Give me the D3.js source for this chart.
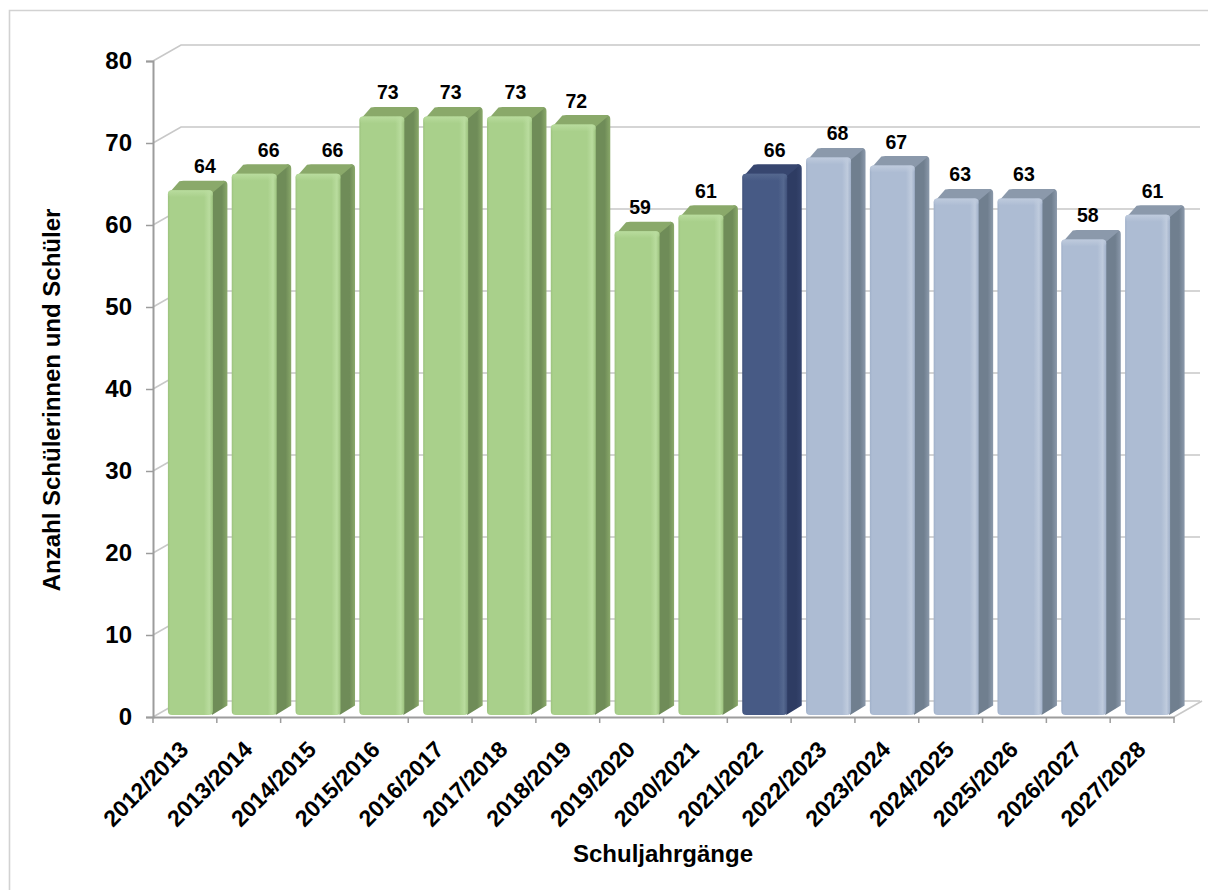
<!DOCTYPE html>
<html>
<head>
<meta charset="utf-8">
<script src="https://cdn.jsdelivr.net/npm/d3@7"></script>
<style>
  html, body { margin: 0; padding: 0; background: #fff; }
  text { font-family: "Liberation Sans", Arial, sans-serif; font-weight: bold; fill: #000; }
</style>
</head>
<body>
<svg id="chart" width="1208" height="890"></svg>
<script>
// Pupil numbers per school year; 2021/2022 is the current year, later years are forecasts.
const schoolYears = ["2012/2013","2013/2014","2014/2015","2015/2016","2016/2017","2017/2018","2018/2019","2019/2020","2020/2021","2021/2022","2022/2023","2023/2024","2024/2025","2025/2026","2026/2027","2027/2028"];
const pupils = [64,66,66,73,73,73,72,59,61,66,68,67,63,63,58,61];
const periods = ["past","past","past","past","past","past","past","past","past","current","future","future","future","future","future","future"];
const yTicks = [0,10,20,30,40,50,60,70,80];
// Hand-placed horizontal offset of each value label from its bar's centre
const labelNudge = [14.5,14.5,14.5,6,5,6,3,3,5,10,9,4,4,4,4,5];

const palette = {
  past:    { front: "#a9d08b", edge: "#b9dc9e", shade: "#9cc27e", side: "#6f8c58", top: "#8aa96a" },
  current: { front: "#475a85", edge: "#55688f", shade: "#3f5079", side: "#2e3c63", top: "#37466f" },
  future:  { front: "#adbcd3", edge: "#bfcbdd", shade: "#a0b0c9", side: "#707f8f", top: "#8b99ab" }
};

const svg = d3.select("#chart");
const margin = { left: 153, right: 1174, top: 61, bottom: 717 };
const wall = { dx: 28, dy: -16 };      // offset of the back wall from the front plane
const depth = { dx: 14.5, dy: -9.5 };  // depth of one bar
const barWidth = 45;
const barShift = 5.5;                  // bars stand slightly right of the slot centre
const radius = 4;

const x = d3.scaleBand().domain(schoolYears).range([margin.left, margin.right]);
const y = d3.scaleLinear().domain([0, 80]).range([margin.bottom, margin.top]);
const gridColor = "#c8c8c8", axisColor = "#9c9c9c";

// Chart frame: only the top and left edges are visible
svg.append("path").attr("d", "M9.5,890V10.5H1208").attr("fill", "none").attr("stroke", "#d2d2d2").attr("stroke-width", 1.6);

// Back wall gridlines with their diagonal run to the front axis
const grid = svg.append("g").attr("fill", "none").attr("stroke", gridColor).attr("stroke-width", 1.6);
yTicks.forEach(t => {
  const p = d3.path();
  p.moveTo(margin.left, y(t));
  p.lineTo(margin.left + wall.dx, y(t) + wall.dy);
  p.lineTo(margin.right + wall.dx - 2, y(t) + wall.dy);
  grid.append("path").attr("d", p.toString());
});
// Floor edge at the right end
grid.append("path").attr("d", d3.line()([[margin.right, y(0)], [margin.right + wall.dx, y(0) + wall.dy]]));

// Gradients for the bar faces
const defs = svg.append("defs");
Object.entries(palette).forEach(([key, c]) => {
  const g = defs.append("linearGradient").attr("id", "front-" + key);
  [[0, c.shade], [0.05, c.front], [0.8, c.front], [0.92, c.edge], [1, c.shade]].forEach(([o, col]) =>
    g.append("stop").attr("offset", o).attr("stop-color", col));
  const s = defs.append("linearGradient").attr("id", "side-" + key);
  [[0, c.side], [0.7, c.side], [1, c.top]].forEach(([o, col]) =>
    s.append("stop").attr("offset", o).attr("stop-color", col));
  const h = defs.append("linearGradient").attr("id", "cap-" + key).attr("x2", 0).attr("y2", 1);
  h.append("stop").attr("offset", 0).attr("stop-color", c.edge);
  h.append("stop").attr("offset", 1).attr("stop-color", c.edge).attr("stop-opacity", 0);
});

// Bars as three faces: side, top, front
svg.append("g").selectAll("g").data(schoolYears).join("g").each(function (year, i) {
  const key = periods[i], c = palette[key];
  const g = d3.select(this);
  const x0 = x(year) + (x.bandwidth() - barWidth) / 2 + barShift;
  const x1 = x0 + barWidth;
  const yb = y(0) - 2;
  const yt = y(pupils[i]) - 2;

  // Side and top share one rounded outline, the top face is painted over it
  const side = d3.path();
  side.moveTo(x1 - 1, yb);
  side.lineTo(x1 + depth.dx, yb + depth.dy);
  side.lineTo(x1 + depth.dx, yt + depth.dy + radius);
  side.quadraticCurveTo(x1 + depth.dx, yt + depth.dy, x1 + depth.dx - radius, yt + depth.dy);
  side.lineTo(x1 - 4, yt + 2);
  side.lineTo(x1 - 1, yt + 2);
  side.closePath();
  g.append("path").attr("d", side.toString()).attr("fill", `url(#side-${key})`);

  const top = d3.path();
  top.moveTo(x0 + 1, yt + 3);
  top.lineTo(x0 + depth.dx - 3, yt + depth.dy + 0.5);
  top.quadraticCurveTo(x0 + depth.dx - 1, yt + depth.dy, x0 + depth.dx + 1, yt + depth.dy);
  top.lineTo(x1 + depth.dx - radius, yt + depth.dy);
  top.quadraticCurveTo(x1 + depth.dx - 1, yt + depth.dy, x1 + depth.dx - 3, yt + depth.dy + 2);
  top.lineTo(x1 - 1, yt + 3);
  top.closePath();
  g.append("path").attr("d", top.toString()).attr("fill", c.top);

  g.append("rect").attr("x", x0).attr("y", yt).attr("width", barWidth).attr("height", yb - yt)
    .attr("rx", radius).attr("fill", `url(#front-${key})`);
  g.append("rect").attr("x", x0).attr("y", yt).attr("width", barWidth).attr("height", 7)
    .attr("rx", radius).attr("fill", `url(#cap-${key})`);

  // Value above the bar
  g.append("text").attr("x", x0 + barWidth / 2 + labelNudge[i])
    .attr("y", yt + depth.dy - 7.5).attr("text-anchor", "middle")
    .attr("font-size", 19.5).text(pupils[i]);
});

// Axes, drawn with d3-axis and restyled
const yAxis = svg.append("g").attr("transform", `translate(${margin.left},0)`)
  .call(d3.axisLeft(y).tickValues(yTicks).tickSize(7).tickPadding(14));
const xAxis = svg.append("g").attr("transform", `translate(0,${margin.bottom})`)
  .call(d3.axisBottom(x).tickSize(0).tickPadding(0));

[yAxis, xAxis].forEach(a => {
  a.attr("font-family", null).attr("font-size", null);
  a.selectAll(".domain").attr("stroke", axisColor).attr("stroke-width", 2);
  a.selectAll(".tick line").attr("stroke", axisColor).attr("stroke-width", 1.5);
});
yAxis.selectAll("text").attr("font-size", 24).attr("dy", "0.3em");

// Category ticks sit on the slot boundaries
xAxis.selectAll(".tick line").remove();
xAxis.append("g").selectAll("line").data(schoolYears.concat(["end"])).join("line")
  .attr("x1", (d, i) => margin.left + i * x.step()).attr("x2", (d, i) => margin.left + i * x.step())
  .attr("y1", 0).attr("y2", 6).attr("stroke", axisColor).attr("stroke-width", 1.5);

xAxis.selectAll(".tick text")
  .attr("font-size", 23).attr("text-anchor", "end").attr("y", 0).attr("dy", 0)
  .attr("transform", "translate(5,34) rotate(-45)");

// Axis titles
svg.append("text").attr("x", 663).attr("y", 862).attr("text-anchor", "middle")
  .attr("font-size", 24).text("Schuljahrgänge");
svg.append("text").attr("transform", "translate(60,400) rotate(-90)").attr("text-anchor", "middle")
  .attr("font-size", 24).text("Anzahl Schülerinnen und Schüler");
</script>
</body>
</html>
